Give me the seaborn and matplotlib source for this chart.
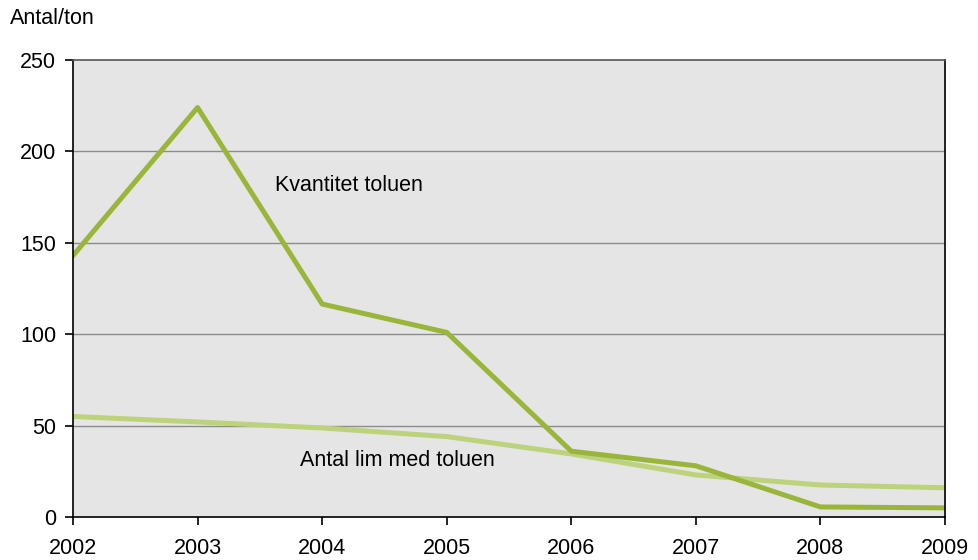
import matplotlib
matplotlib.use("Agg")
import matplotlib.pyplot as plt
import seaborn as sns
import pandas as pd

years = [2002, 2003, 2004, 2005, 2006, 2007, 2008, 2009]
kvantitet_toluen = [143, 224, 116.5, 101, 36, 28, 5.5, 5]
antal_lim = [55, 52, 48.7, 44, 34.5, 23, 17.5, 16]
yticks = [0, 50, 100, 150, 200, 250]

sns.set_theme(style="white")
plt.rcParams['font.family'] = ['Liberation Sans', 'DejaVu Sans']

df = pd.DataFrame({
    "year": years * 2,
    "value": kvantitet_toluen + antal_lim,
    "series": ["Kvantitet toluen"] * len(years) + ["Antal lim med toluen"] * len(years),
})

fig = plt.figure(figsize=(9.79, 5.6), dpi=100)
ax = fig.add_axes([73/979, 43/560, (945-73)/979, (517-60)/560])
ax.set_facecolor("#e5e5e5")

sns.lineplot(data=df, x="year", y="value", hue="series",
             palette={"Kvantitet toluen": "#9ab63a", "Antal lim med toluen": "#bcd27b"},
             hue_order=["Antal lim med toluen", "Kvantitet toluen"],
             linewidth=3.6, legend=False, ax=ax)

ax.set_xlim(2002, 2009)
ax.set_ylim(0, 250)
ax.set_yticks(yticks)
ax.set_xticks(years)
ax.set_xticklabels([str(y) for y in years])
for v in yticks[1:-1]:
    ax.axhline(v, color="#8c8c8c", linewidth=1, zorder=0.5)
ax.set_xlabel("")
ax.set_ylabel("")
for s in ["left", "bottom", "right"]:
    ax.spines[s].set_color("black")
    ax.spines[s].set_linewidth(1.2)
ax.spines["top"].set_color("#555555")
ax.spines["top"].set_linewidth(1.2)
ax.tick_params(axis="both", which="both", direction="out", length=6, width=1.2,
               color="black", labelsize=15.5, labelcolor="black", pad=6,
               bottom=True, left=True)
ax.tick_params(axis="x", pad=9)

ax.text(2003.62, 181.5, "Kvantitet toluen", fontsize=15.5, color="black", va="center")
ax.text(2003.82, 31, "Antal lim med toluen", fontsize=15.5, color="black", va="center")
fig.text(10/979, 1 - 18/560, "Antal/ton", fontsize=15.5, color="black", va="center")

fig.savefig("out.png", dpi=100)
